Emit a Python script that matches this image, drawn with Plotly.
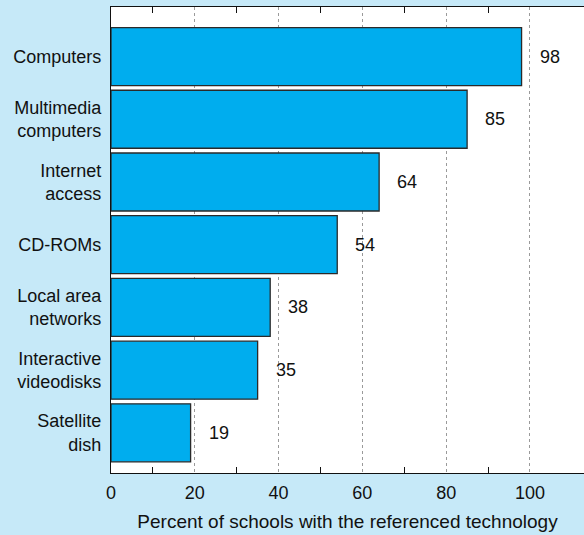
import plotly.graph_objects as go

categories = ["Satellite<br>dish", "Interactive<br>videodisks", "Local area<br>networks",
              "CD-ROMs", "Internet<br>access", "Multimedia<br>computers", "Computers"]
values = [19, 35, 38, 54, 64, 85, 98]
x_tick_vals = [0, 20, 40, 60, 80, 100]
x_minor_vals = [10, 30, 50, 70, 90]
x_title = "Percent of schools with the referenced technology"

FONT = "Liberation Sans, Arial, Helvetica, sans-serif"
BG = "#c6e9f8"
BAR = "#00adee"

fig = go.Figure()
fig.add_trace(go.Bar(
    x=values, y=list(range(len(categories))), orientation="h",
    marker=dict(color=BAR, line=dict(color="#2a2a2a", width=1.3)),
    width=0.925, hoverinfo="skip",
))

for i, v in enumerate(values):
    fig.add_annotation(x=v, y=i, text=str(v), showarrow=False, xanchor="left",
                       xshift=16, font=dict(family=FONT, size=18, color="#111"))

fig.update_layout(
    width=584, height=535,
    margin=dict(l=111, r=0, t=7, b=62),
    paper_bgcolor=BG, plot_bgcolor="white",
    showlegend=False,
    font=dict(family=FONT, size=18, color="#111"),
)
fig.update_xaxes(
    range=[0, 112.9], tickvals=x_tick_vals, ticks="",
    showgrid=True, gridcolor="#9a9a9a", griddash="dot", gridwidth=1,
    showline=True, linecolor="#111", linewidth=1.3, mirror="ticks",
    zeroline=False,
    minor=dict(tickmode="array", tickvals=x_minor_vals, ticks="inside", ticklen=6,
               tickcolor="#111", showgrid=False),
    title=dict(text=x_title, standoff=12, font=dict(size=19)),
    tickfont=dict(size=18), ticklabelstandoff=3, fixedrange=True,
)
fig.update_yaxes(
    range=[-0.64, 6.79], tickvals=list(range(len(categories))), ticktext=categories,
    ticks="", showgrid=False, showline=True, linecolor="#111", linewidth=1.3,
    zeroline=False, ticklabelstandoff=5, tickfont=dict(size=18), fixedrange=True,
)

fig.write_html("out.html", config={"displayModeBar": False},
               post_script="document.body.style.margin='0';")
